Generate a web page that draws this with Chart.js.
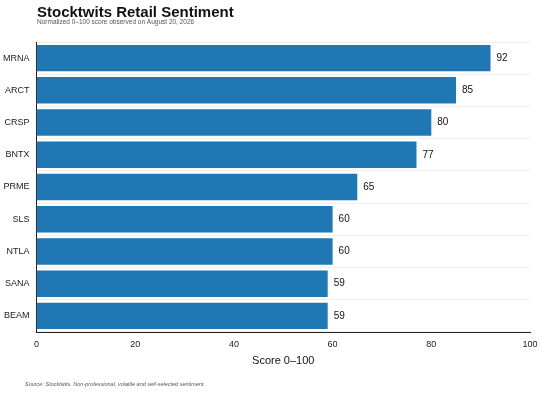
<!DOCTYPE html><html><head><style>html,body{margin:0;padding:0;background:#fff}#w{position:relative;width:545px;height:400px}canvas{position:absolute;left:0;top:0}</style>
<script src="https://cdn.jsdelivr.net/npm/chart.js@4"></script></head><body><div id="w"><canvas id="c" width="545" height="400"></canvas></div>
<script>
const categories=["MRNA","ARCT","CRSP","BNTX","PRME","SLS","NTLA","SANA","BEAM"];
const scores=[92,85,80,77,65,60,60,59,59];
const xTicks=[0,20,40,60,80,100];
const F="Liberation Sans, Arial, sans-serif";
const deco={id:'deco',afterDraw(ch){const c=ch.ctx;c.save();
c.fillStyle='#111';c.font='bold 15px '+F;c.textBaseline='alphabetic';c.fillText('Stocktwits Retail Sentiment',37,17);
c.fillStyle='#555';c.font='6.5px '+F;c.fillText('Normalized 0\u2013100 score observed on August 20, 2026',37,24);
c.font='italic 5.5px '+F;c.fillText('Source: Stocktwits. Non-professional, volatile and self-selected sentiment.',25,386);
const m=ch.getDatasetMeta(0);c.fillStyle='#111';c.font='10px '+F;c.textBaseline='middle';
m.data.forEach((b,i)=>c.fillText(String(scores[i]),b.x+6,b.y));c.restore();}};
new Chart(document.getElementById('c'),{type:'bar',data:{labels:categories,datasets:[{data:scores,backgroundColor:'#1f77b4',categoryPercentage:1,barPercentage:0.82}]},
options:{indexAxis:'y',responsive:false,animation:false,layout:{padding:{top:42,right:15,bottom:28,left:0}},
plugins:{legend:{display:false},tooltip:{enabled:false}},
scales:{x:{min:0,max:100,afterBuildTicks:a=>{a.ticks=xTicks.map(v=>({value:v}))},grid:{display:false,drawTicks:true,tickLength:4},border:{color:'#222'},ticks:{color:'#222',font:{size:9,family:F}},title:{display:true,text:'Score 0\u2013100',color:'#111',font:{size:11,family:F},padding:{top:2}}},
y:{grid:{color:'rgba(0,0,0,0.06)',tickLength:4},border:{color:'#222'},ticks:{color:'#222',font:{size:9,family:F}}}}},plugins:[deco]});
</script></body></html>
